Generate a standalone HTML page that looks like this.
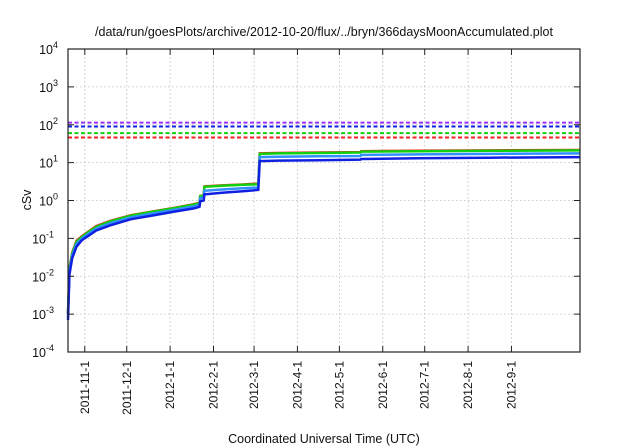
<!DOCTYPE html>
<html><head><meta charset="utf-8"><style>
body{margin:0;background:#fff}
svg{display:block;font-family:"Liberation Sans",sans-serif}
</style></head><body>
<svg id="chart" width="640" height="448" viewBox="0 0 640 448" xmlns="http://www.w3.org/2000/svg">
<rect width="640" height="448" fill="#fff"/>
<text x="324" y="36" font-size="12.5" text-anchor="middle" fill="#111">/data/run/goesPlots/archive/2012-10-20/flux/../bryn/366daysMoonAccumulated.plot</text>
<text x="324" y="443" font-size="12.5" text-anchor="middle" fill="#111">Coordinated Universal Time (UTC)</text>
<text x="0" y="0" font-size="12.5" text-anchor="middle" fill="#111" transform="translate(31,200) rotate(-90)">cSv</text>
<g id="grid"></g>
<g id="thresholds"></g>
<g id="series"></g>
<g id="axes"></g>
</svg>
<script>
const tickLabels = ["2011-11-1","2011-12-1","2012-1-1","2012-2-1","2012-3-1","2012-4-1","2012-5-1","2012-6-1","2012-7-1","2012-8-1","2012-9-1"];
const tickDays = [12,42,73,104,133,164,194,225,255,286,317];
const yExps = [-4,-3,-2,-1,0,1,2,3,4];
const thresholdValues = [114,90,60,46];
const thresholdColors = ["#9b30ff","#1020e0","#10d010","#f02020"];
const days = [0,1,3,6,10,15,20,30,45,60,75,90,94,94.5,97,97.5,110,125,136,137,150,180,209,209.5,250,300,366];
const redVals = [0.001,0.016,0.042,0.085,0.115,0.155,0.21,0.29,0.41,0.51,0.63,0.8,0.87,1.32,1.37,2.35,2.5,2.65,2.8,17.5,18,18.5,19,20,20.5,21,21.5];
const greenVals = [0.001,0.015,0.04,0.08,0.11,0.15,0.2,0.28,0.4,0.5,0.62,0.78,0.85,1.3,1.35,2.3,2.45,2.6,2.7,17,17.5,18,18.5,19.5,20,20.5,21];
const lightBlueVals = [0.001,0.013,0.035,0.07,0.1,0.135,0.18,0.25,0.36,0.45,0.56,0.7,0.76,1.15,1.2,1.8,1.95,2.1,2.2,14,14.3,14.7,15,16,16.5,17,17.5];
const blueVals = [0.0007,0.011,0.03,0.06,0.09,0.12,0.16,0.22,0.32,0.4,0.5,0.62,0.68,0.95,1.0,1.45,1.6,1.75,1.9,11,11.3,11.6,12,12.5,13,13.5,14];
const seriesList = [["red-series","#f02020",redVals],["green-series","#10d010",greenVals],["light-blue-series","#3090ff",lightBlueVals],["blue-series","#1020e0",blueVals]];

const L=68,R=580,T=49,B=352,D=366;
const xs=d=>L+(R-L)*d/D;
const ys=v=>B-(B-T)*(Math.log10(v)+4)/8;
const NS="http://www.w3.org/2000/svg";
function mk(tag,attrs,parent){const e=document.createElementNS(NS,tag);for(const k in attrs)e.setAttribute(k,attrs[k]);parent.appendChild(e);return e;}
const grid=document.getElementById('grid'),axes=document.getElementById('axes'),th=document.getElementById('thresholds'),se=document.getElementById('series');
tickDays.forEach((d,i)=>{
  const x=xs(d);
  const g=mk('line',{x1:x,x2:x,y1:T,y2:B,stroke:'#bbb','stroke-width':0.8,'stroke-dasharray':'1.5,2.5'},grid);
  
  
  const t1=mk('line',{x1:x,x2:x,y1:B,y2:B-6,stroke:'#222'},axes);
  
  
  const t2=mk('line',{x1:x,x2:x,y1:T,y2:T+6,stroke:'#222'},axes);
  
  
  const tx=mk('text',{x:0,y:0,'font-size':12,'text-anchor':'end',fill:'#111',transform:`translate(${x+4},${B+9}) rotate(-90)`},axes);
  tx.textContent=tickLabels[i];
  
  
});
yExps.forEach(e=>{
  const y=ys(Math.pow(10,e));
  if(e>-4&&e<4){const g=mk('line',{x1:L,x2:R,y1:y,y2:y,stroke:'#bbb','stroke-width':0.8,'stroke-dasharray':'1.5,2.5'},grid);
  
  }
  const t=mk('line',{x1:L,x2:L+6,y1:y,y2:y,stroke:'#222'},axes);
  
  
  const t2=mk('line',{x1:R,x2:R-6,y1:y,y2:y,stroke:'#222'},axes);
  
  
  const tx=mk('text',{x:L-8,y:y+5,'font-size':12.5,'text-anchor':'end',fill:'#111'},axes);
  
  
  const base=document.createElementNS(NS,'tspan');base.textContent='10';tx.appendChild(base);
  const sup=document.createElementNS(NS,'tspan');sup.setAttribute('dy','-6');sup.setAttribute('font-size','9');sup.textContent=String(e);tx.appendChild(sup);
  tx.setAttribute('x',L-6-(e<0?8:4));
});
thresholdValues.forEach((v,i)=>{
  const l=mk('line',{x1:L,x2:R,y1:ys(v),y2:ys(v),stroke:thresholdColors[i],'stroke-width':2,'stroke-dasharray':'4,2.5'},th);
  
  
});
seriesList.forEach(([name,col,vals])=>{
  const p=days.map((d,i)=>(i?'L':'M')+xs(d).toFixed(1)+','+ys(vals[i]).toFixed(1)).join(' ');
  const e=mk('path',{d:p,fill:'none',stroke:col,'stroke-width':2.5},se);
  
  
});
const fr=mk('rect',{x:L,y:T,width:R-L,height:B-T,fill:'none',stroke:'#222','stroke-width':1.2},axes);


</script>
</body></html>
